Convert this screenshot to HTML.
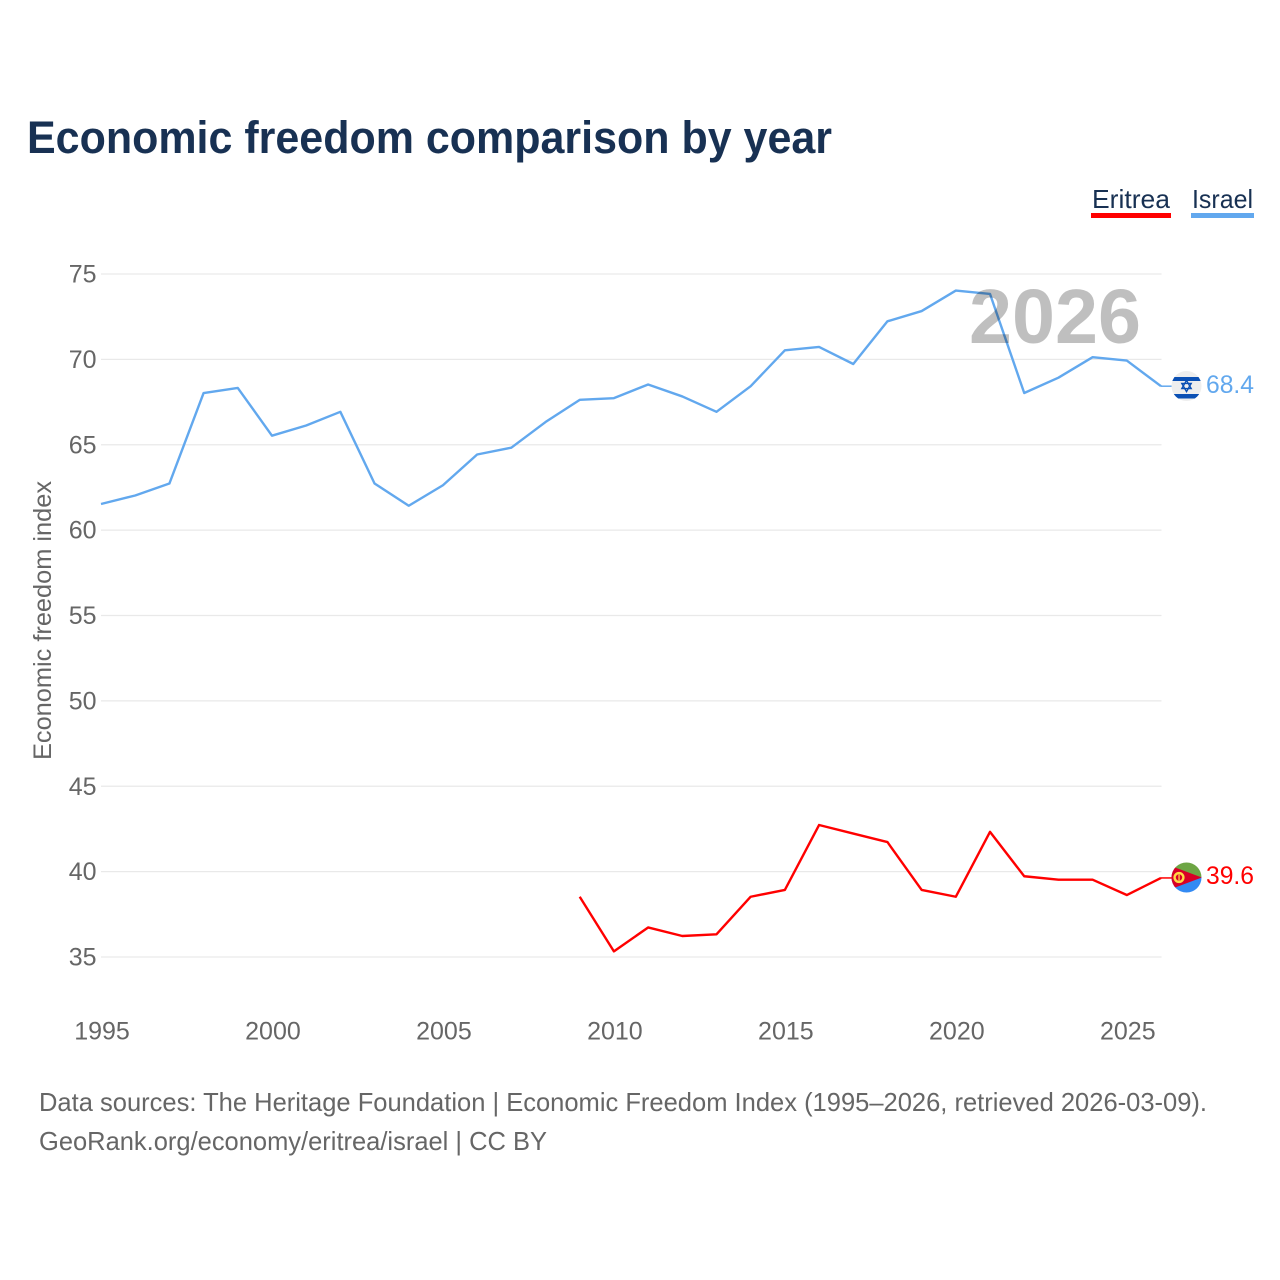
<!DOCTYPE html>
<html lang="en">
<head>
<meta charset="utf-8">
<title>Economic freedom comparison by year</title>
<style>
html,body{margin:0;padding:0;background:#fff;}
svg{display:block;}
text{font-family:"Liberation Sans",sans-serif;}
</style>
</head>
<body>
<svg id="chart" width="1280" height="1280" viewBox="0 0 1280 1280" xmlns="http://www.w3.org/2000/svg">
  <rect width="1280" height="1280" fill="#fff"/>
  <text x="27" y="153" font-size="45" font-weight="700" fill="#183153" textLength="805" lengthAdjust="spacingAndGlyphs">Economic freedom comparison by year</text>
  <g>
    <text x="1092" y="208" font-size="26" fill="#183153" textLength="78" lengthAdjust="spacingAndGlyphs">Eritrea</text>
    <rect x="1091" y="213" width="80" height="5" fill="#ff0000"/>
  </g>
  <g>
    <text x="1192" y="208" font-size="26" fill="#183153" textLength="61" lengthAdjust="spacingAndGlyphs">Israel</text>
    <rect x="1191" y="213" width="63" height="5" fill="#62a8ee"/>
  </g>
  <g id="grid"></g>
  <g id="yticks"></g>
  <g id="xticks"></g>
  <text transform="translate(51,760) rotate(-90)" font-size="25" fill="#666" textLength="279" lengthAdjust="spacingAndGlyphs">Economic freedom index</text>
  <g id="series" transform="translate(0,-0.5)"></g>
  <text x="969" y="343" font-size="77" font-weight="700" fill="#000" fill-opacity="0.25" textLength="172" lengthAdjust="spacingAndGlyphs">2026</text>
  <defs>
    <clipPath id="clip-il"><circle cx="1186.5" cy="386" r="15"/></clipPath>
    <clipPath id="clip-er"><circle cx="1186.5" cy="877.5" r="15"/></clipPath>
  </defs>
  <g id="flag-il" clip-path="url(#clip-il)">
    <rect x="1171" y="371" width="31" height="31" fill="#eeeeee"/>
    <rect x="1171" y="377" width="31" height="4" fill="#0b50b4"/>
    <rect x="1171" y="394" width="31" height="4.5" fill="#0b50b4"/>
    <polygon points="1186.5,380.4 1191.2,388.6 1181.8,388.6" fill="none" stroke="#0b50b4" stroke-width="1.4"/>
    <polygon points="1186.5,391.6 1191.2,383.4 1181.8,383.4" fill="none" stroke="#0b50b4" stroke-width="1.4"/>
  </g>
  <g id="flag-er" clip-path="url(#clip-er)">
    <rect x="1171" y="862" width="31" height="16" fill="#6da544"/>
    <rect x="1171" y="877" width="31" height="17" fill="#338af3"/>
    <polygon points="1171,866 1202,877.5 1171,889" fill="#d80027"/>
    <circle cx="1179" cy="877.5" r="4.4" fill="none" stroke="#ffda44" stroke-width="2.4"/>
    <rect x="1178.4" y="874.5" width="1.3" height="6" fill="#ffda44"/>
  </g>
  <g id="endlabels"></g>
  <text x="39" y="1111" font-size="26" fill="#666" textLength="1168" lengthAdjust="spacingAndGlyphs">Data sources: The Heritage Foundation | Economic Freedom Index (1995–2026, retrieved 2026-03-09).</text>
  <text x="39" y="1150" font-size="26" fill="#666" textLength="508" lengthAdjust="spacingAndGlyphs">GeoRank.org/economy/eritrea/israel | CC BY</text>
</svg>
<script>
const years = [1995,1996,1997,1998,1999,2000,2001,2002,2003,2004,2005,2006,2007,2008,2009,2010,2011,2012,2013,2014,2015,2016,2017,2018,2019,2020,2021,2022,2023,2024,2025,2026];
const israelValues = [61.5,62.0,62.7,68.0,68.3,65.5,66.1,66.9,62.7,61.4,62.6,64.4,64.8,66.3,67.6,67.7,68.5,67.8,66.9,68.4,70.5,70.7,69.7,72.2,72.8,74.0,73.8,68.0,68.9,70.1,69.9,68.4];
const eritreaValues = [null,null,null,null,null,null,null,null,null,null,null,null,null,null,38.5,35.3,36.7,36.2,36.3,38.5,38.9,42.7,42.2,41.7,38.9,38.5,42.3,39.7,39.5,39.5,38.6,39.6];
const yTicks = [35,40,45,50,55,60,65,70,75];
const xTicks = [1995,2000,2005,2010,2015,2020,2025];

const SVG_NS = 'http://www.w3.org/2000/svg';
const xScale = function (year) { return 101 + (year - 1995) * (1060 / 31); };
const yScale = function (value) { return 957 - (value - 35) * (683 / 40); };

function make(tag, parent, props, text) {
  const el = document.createElementNS(SVG_NS, tag);
  for (const key in props) { el.setAttribute(key, props[key]); }
  if (text !== undefined) { el.textContent = text; }
  parent.appendChild(el);
  return el;
}

const gridGroup = document.getElementById('grid');
const yTickGroup = document.getElementById('yticks');
yTicks.forEach(function (tick) {
  const y = yScale(tick);
  const line = make('line', gridGroup, { x1: 101, x2: 1161.5, y1: y, y2: y, stroke: '#e9e9e9', 'stroke-width': 1.3 });
  
  
  const label = make('text', yTickGroup, { x: 96.5, y: y + 8.5, 'font-size': 25, fill: '#666', 'text-anchor': 'end' }, String(tick));
  
  
});

const xTickGroup = document.getElementById('xticks');
xTicks.forEach(function (tick) {
  const label = make('text', xTickGroup, { x: xScale(tick) + 1, y: 1039.5, 'font-size': 25, fill: '#666', 'text-anchor': 'middle' }, String(tick));
  
  
});

function linePath(values) {
  let d = '';
  let pen = false;
  values.forEach(function (v, i) {
    if (v === null) { pen = false; return; }
    d += (pen ? 'L' : 'M') + xScale(years[i]).toFixed(2) + ' ' + yScale(v).toFixed(2);
    pen = true;
  });
  return d;
}

const seriesGroup = document.getElementById('series');
const labelGroup = document.getElementById('endlabels');

const israelLine = make('path', seriesGroup, { d: linePath(israelValues), fill: 'none', stroke: '#62a8ee', 'stroke-width': 2.4, 'stroke-linejoin': 'round' });



const eritreaLine = make('path', seriesGroup, { d: linePath(eritreaValues), fill: 'none', stroke: '#ff0000', 'stroke-width': 2.4, 'stroke-linejoin': 'round' });



const lastIsrael = israelValues[israelValues.length - 1];
const lastEritrea = eritreaValues[eritreaValues.length - 1];

const israelConnector = make('line', seriesGroup, { x1: 1161, x2: 1172, y1: yScale(lastIsrael), y2: yScale(lastIsrael), stroke: '#62a8ee', 'stroke-width': 1.5 });



const eritreaConnector = make('line', seriesGroup, { x1: 1161, x2: 1172, y1: yScale(lastEritrea), y2: yScale(lastEritrea), stroke: '#ff0000', 'stroke-width': 1.5 });



const israelLabel = make('text', labelGroup, { x: 1206, y: yScale(lastIsrael) + 6.5, 'font-size': 25, fill: '#62a8ee', textLength: 48, lengthAdjust: 'spacingAndGlyphs' }, lastIsrael.toFixed(1));



const eritreaLabel = make('text', labelGroup, { x: 1206, y: yScale(lastEritrea) + 5.5, 'font-size': 25, fill: '#ff0000', textLength: 48, lengthAdjust: 'spacingAndGlyphs' }, lastEritrea.toFixed(1));


</script>
</body>
</html>
